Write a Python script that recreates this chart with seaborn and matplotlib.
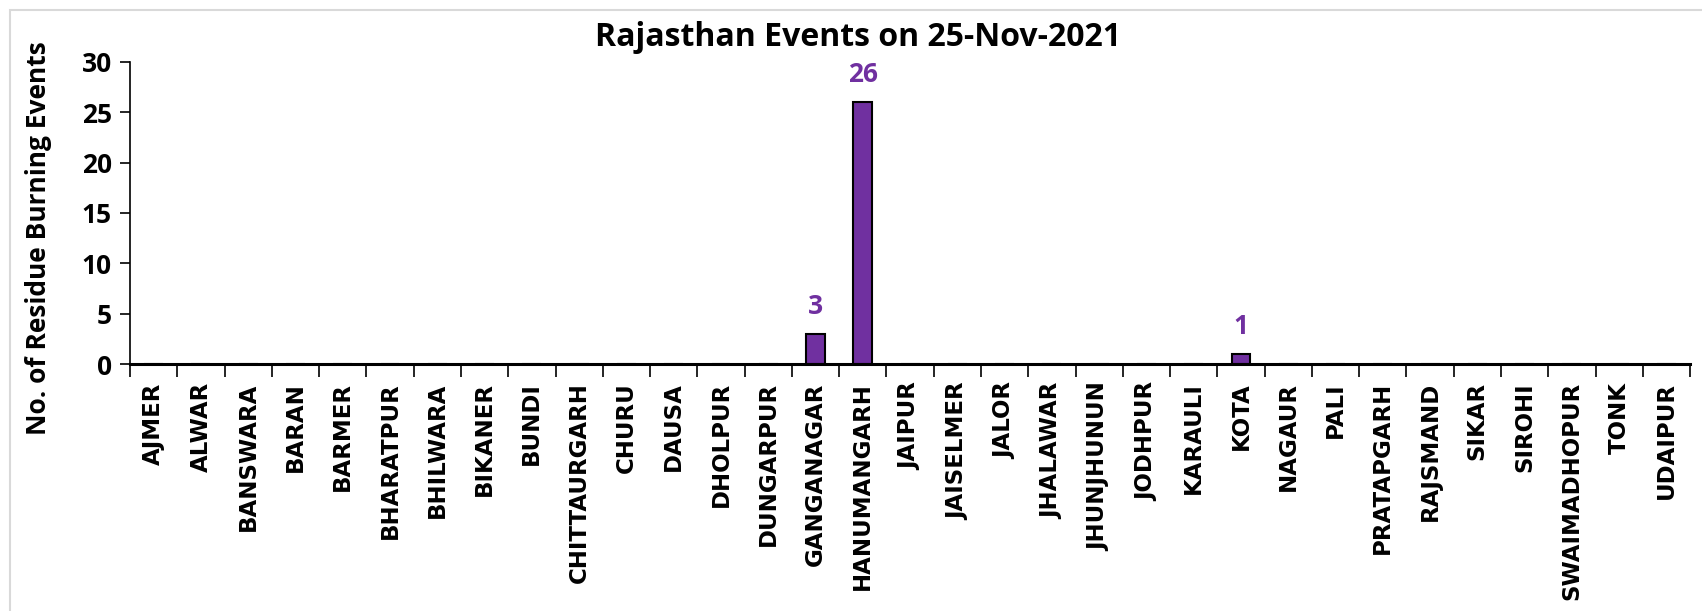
import matplotlib
matplotlib.use("Agg")
import matplotlib.pyplot as plt
import seaborn as sns
import pandas as pd
from matplotlib.patches import Rectangle

districts = ["AJMER", "ALWAR", "BANSWARA", "BARAN", "BARMER", "BHARATPUR", "BHILWARA",
             "BIKANER", "BUNDI", "CHITTAURGARH", "CHURU", "DAUSA", "DHOLPUR", "DUNGARPUR",
             "GANGANAGAR", "HANUMANGARH", "JAIPUR", "JAISELMER", "JALOR", "JHALAWAR",
             "JHUNJHUNUN", "JODHPUR", "KARAULI", "KOTA", "NAGAUR", "PALI", "PRATAPGARH",
             "RAJSMAND", "SIKAR", "SIROHI", "SWAIMADHOPUR", "TONK", "UDAIPUR"]
events = [0, 0, 0, 0, 0, 0, 0, 0, 0, 0, 0, 0, 0, 0, 3, 26, 0, 0, 0, 0, 0, 0, 0, 1,
          0, 0, 0, 0, 0, 0, 0, 0, 0]
yticks = [0, 5, 10, 15, 20, 25, 30]
title = "Rajasthan Events on 25-Nov-2021"
ylabel = "No. of Residue Burning Events"

sns.set_theme(style="white")
narrow = "Open Sans"
plt.rcParams['font.family'] = ['DejaVu Sans']
plt.rcParams['text.color'] = 'black'
plt.rcParams['xtick.color'] = 'black'
plt.rcParams['ytick.color'] = 'black'
plt.rcParams['axes.labelcolor'] = 'black'

df = pd.DataFrame({"district": districts, "events": events})

fig = plt.figure(figsize=(17.02, 6.11), dpi=100)
ax = fig.add_axes([0.0764, 0.404, 0.9166, 0.495])
purple = "#7030A0"
sns.barplot(data=df, x="district", y="events", color=purple, edgecolor="black",
            linewidth=1.5, width=0.4, saturation=1, ax=ax)

ax.set_xlim(-0.5, len(districts) - 0.5)
ax.set_ylim(0, 30)
ax.set_yticks(yticks)
ax.set_yticklabels([str(v) for v in yticks], fontsize=19, fontweight="bold", family=narrow)
ax.set_xticks(range(len(districts)))
ax.set_xticklabels(districts, rotation=90, fontsize=16.5, fontweight="bold", family="DejaVu Sans")
ax.tick_params(axis="x", which="major", length=0, pad=13, colors="black")
ax.set_xticks([i - 0.5 for i in range(len(districts) + 1)], minor=True)
ax.tick_params(axis="x", which="minor", length=9, width=1.2, direction="out", bottom=True, color="black")
ax.tick_params(axis="y", length=7, width=1.2, direction="out", left=True, color="black", pad=6)

for s in ["top", "right"]:
    ax.spines[s].set_visible(False)
ax.spines["left"].set_color("black")
ax.spines["left"].set_linewidth(1.2)
ax.spines["bottom"].set_color("black")
ax.spines["bottom"].set_linewidth(2.2)

ax.set_xlabel("")
ax.set_ylabel("")
fig.text(0.0225, 0.61, ylabel, rotation=90, ha="center", va="center",
         fontsize=19, fontweight="bold", family=narrow, color="black")
fig.text(0.504, 0.938, title, ha="center", va="center",
         fontsize=23, fontweight="bold", family=narrow, color="black")

labels = [str(v) if v > 0 else "" for v in events]
ax.bar_label(ax.containers[0], labels=labels, padding=10, color=purple,
             fontsize=19, fontweight="bold", family=narrow)

fig.patches.append(Rectangle((0.006, -0.1), 1.2, 1.083, transform=fig.transFigure,
                             fill=False, edgecolor="#d9d9d9", linewidth=1.5))

fig.savefig("out.png", dpi=100)
